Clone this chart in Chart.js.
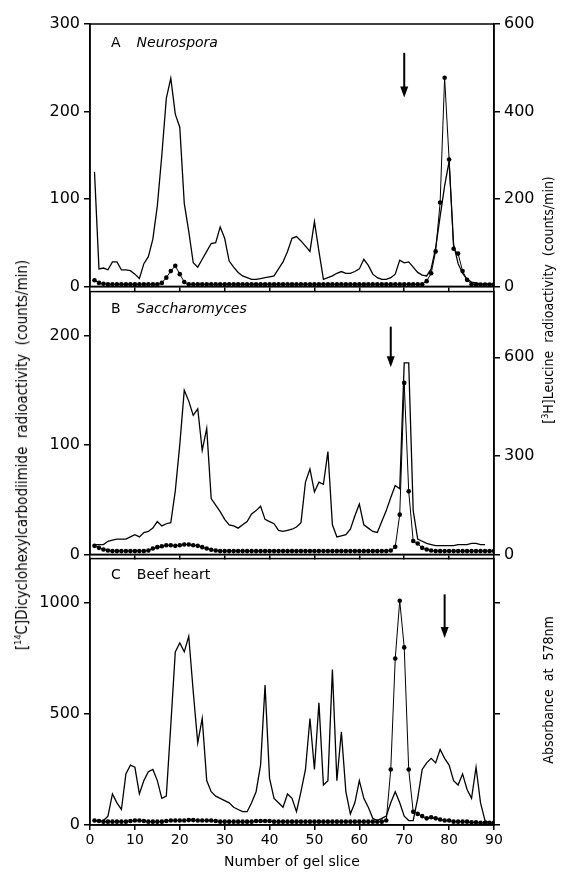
<!DOCTYPE html>
<html>
<head>
<meta charset="utf-8">
<script src="https://cdn.jsdelivr.net/npm/chart.js@4.4.1/dist/chart.umd.min.js"></script>
<style>
  body { margin: 0; background: #fff; }
  #page { position: relative; width: 568px; height: 875px; overflow: hidden; font-family: "DejaVu Sans", sans-serif; color: #000; }
  .wrap { position: absolute; left: 0; width: 568px; }
  .tag { position: absolute; font-size: 14px; white-space: nowrap; }
  .tag i { margin-left: 16px; }
  .vtitle { position: absolute; font-family: "DejaVu Sans Condensed", "DejaVu Sans", sans-serif; font-size: 14px; white-space: nowrap; transform: translate(-50%, -50%) rotate(-90deg); }
  .vtitle sup { font-size: 9px; }
</style>
</head>
<body>
<div id="page">
  <div class="wrap" style="top:0;height:300px"><canvas id="chartA" width="568" height="300"></canvas></div>
  <div class="wrap" style="top:278px;height:290px"><canvas id="chartB" width="568" height="290"></canvas></div>
  <div class="wrap" style="top:545px;height:330px"><canvas id="chartC" width="568" height="330"></canvas></div>

  <div class="tag" style="left:111px;top:34px">A<i>Neurospora</i></div>
  <div class="tag" style="left:111px;top:300px">B<i>Saccharomyces</i></div>
  <div class="tag" style="left:111px;top:566px">C<span style="margin-left:16px">Beef heart</span></div>

  <div class="vtitle" style="left:22px;top:455px;font-size:15px">[<sup>14</sup>C]Dicyclohexylcarbodiimide&nbsp; radioactivity&nbsp; (counts/min)</div>
  <div class="vtitle" style="left:548px;top:300px">[<sup>3</sup>H]Leucine&nbsp; radioactivity&nbsp; (counts/min)</div>
  <div class="vtitle" style="left:548px;top:690px">Absorbance&nbsp; at&nbsp; 578nm</div>
</div>

<script>
// gel slice numbers
const slices = [1,2,3,4,5,6,7,8,9,10,11,12,13,14,15,16,17,18,19,20,21,22,23,24,25,26,27,28,29,30,
  31,32,33,34,35,36,37,38,39,40,41,42,43,44,45,46,47,48,49,50,51,52,53,54,55,56,57,58,59,60,
  61,62,63,64,65,66,67,68,69,70,71,72,73,74,75,76,77,78,79,80,81,82,83,84,85,86,87,88,89,90];

// A Neurospora : [14C]DCCD (left) and [3H]leucine (right)
const neuroDccd = [131,20,21,19,28,28,19,19,18,14,9,26,34,54,92,150,215,238,197,182,95,63,27,22,31,40,49,50,68,55,
  29,22,16,12,10,8,8,9,10,11,12,20,28,40,55,57,52,46,40,74,40,8,10,12,15,17,15,15,17,20,
  31,24,14,10,8,8,10,14,30,27,28,22,16,13,12,20,44,80,115,143,48,26,15,8,5,4,3,3,3,3];
const neuroLeu = [14,8,6,5,5,5,5,5,5,5,5,5,5,5,5,8,20,35,47,28,10,5,5,5,5,5,5,5,5,5,
  5,5,5,5,5,5,5,5,5,5,5,5,5,5,5,5,5,5,5,5,5,5,5,5,5,5,5,5,5,5,
  5,5,5,5,5,5,5,5,5,5,5,5,5,5,12,30,80,192,477,290,86,75,35,15,5,4,4,4,4,4];

// B Saccharomyces
const saccDccd = [9,9,9,12,13,14,14,14,16,18,16,20,21,24,30,26,28,29,58,100,150,140,127,133,95,115,51,45,39,32,
  27,26,24,27,30,37,40,44,32,30,28,22,21,22,23,25,29,66,78,57,66,64,94,27,16,17,18,23,35,46,
  27,24,21,20,30,40,52,63,60,175,175,40,14,12,10,9,8,8,8,8,8,9,9,9,10,10,9,9,null,null];
const saccLeu = [26,20,15,12,10,10,10,10,10,10,10,10,12,18,22,25,28,28,26,28,30,30,28,26,22,18,14,12,10,10,
  10,10,10,10,10,10,10,10,10,10,10,10,10,10,10,10,10,10,10,10,10,10,10,10,10,10,10,10,10,10,
  10,10,10,10,10,10,12,23,121,522,192,41,33,20,15,12,10,10,10,10,10,10,10,10,10,10,10,10,10,10];

// C Beef heart : [14C]DCCD (left) and absorbance (right)
const beefDccd = [20,15,20,40,140,100,70,230,270,260,140,200,240,250,200,120,130,450,780,820,780,850,600,370,480,200,150,130,120,110,
  100,80,70,60,60,100,150,270,630,210,120,100,80,140,120,60,150,250,480,250,550,180,200,700,200,420,150,50,100,200,
  120,80,30,20,30,40,100,150,100,40,20,20,120,250,280,300,280,340,300,270,200,180,230,160,120,260,100,20,10,10];
const beefAbs = [20,18,15,15,15,15,15,15,18,20,20,18,15,15,15,15,18,20,20,20,20,22,22,20,20,20,20,18,15,15,
  15,15,15,15,15,15,18,18,18,18,15,15,15,15,15,15,15,15,15,15,15,15,15,15,15,15,15,15,15,15,
  15,15,15,15,15,20,250,750,1010,800,250,60,50,40,30,35,30,25,20,20,15,15,15,15,12,12,10,10,10,10];

// axes
const xTicks = [0,10,20,30,40,50,60,70,80,90];
const aLeftTicks = [0,100,200,300];
const aRightTicks = [0,200,400,600];
const bLeftTicks = [0,100,200];
const bRightTicks = [0,300,600];
const cLeftTicks = [0,500,1000];

// down arrows: slice and the left-scale values of tail and tip
const arrowA = [70, 267, 216];
const arrowB = [67, 208, 171];
const arrowC = [79, 1039, 842];

const ink = '#000';
const tickFont = { family: 'DejaVu Sans', size: 16 };

const framePlugin = {
  id: 'frame',
  afterDraw(chart, args, opts) {
    const { ctx, chartArea: a, scales } = chart;
    ctx.save();
    ctx.strokeStyle = ink;
    ctx.lineWidth = 1.5;
    ctx.strokeRect(a.left, a.top, a.right - a.left, a.bottom - a.top);
    if (opts.arrow) {
      const [sx, y0, y1] = opts.arrow;
      const px = scales.x.getPixelForValue(sx);
      const pTop = scales.y.getPixelForValue(y0);
      const pTip = scales.y.getPixelForValue(y1);
      ctx.lineWidth = 2;
      ctx.beginPath();
      ctx.moveTo(px, pTop);
      ctx.lineTo(px, pTip - 8);
      ctx.stroke();
      ctx.fillStyle = ink;
      ctx.beginPath();
      ctx.moveTo(px - 4, pTip - 11);
      ctx.lineTo(px + 4, pTip - 11);
      ctx.lineTo(px, pTip);
      ctx.closePath();
      ctx.fill();
    }
    ctx.restore();
  }
};

function fixed(list) {
  return s => { s.ticks = list.map(v => ({ value: v })); };
}

function yAxis(pos, max, list, showLabels, width) {
  return {
    type: 'linear', position: pos, min: 0, max: max,
    afterBuildTicks: fixed(list),
    afterFit: s => { s.width = width; },
    grid: { drawOnChartArea: false, drawTicks: true, tickLength: 6, color: ink, lineWidth: 1.5 },
    border: { display: true, color: ink, width: 1.5 },
    ticks: { display: showLabels, color: ink, font: tickFont, padding: 4, callback: v => String(v) }
  };
}

function xAxis(showLabels, height) {
  const ax = {
    type: 'linear', min: 0, max: 90,
    afterBuildTicks: fixed(xTicks),
    afterFit: s => { s.height = height; },
    grid: { drawOnChartArea: false, drawTicks: true, tickLength: 5, color: ink, lineWidth: 1.5 },
    border: { display: true, color: ink, width: 1.5 },
    ticks: { display: showLabels, color: ink, font: { family: 'DejaVu Sans', size: 14 }, padding: 2, maxRotation: 0, callback: v => String(v) }
  };
  if (showLabels) {
    ax.title = { display: true, text: 'Number of gel slice', color: ink, font: { family: 'DejaVu Sans', size: 14 }, padding: { top: 0, bottom: 4 } };
  }
  return ax;
}

function solid(vals) {
  return { data: slices.map((s, i) => ({ x: s, y: vals[i] })), yAxisID: 'y', borderColor: ink, borderWidth: 1.3, pointRadius: 0, tension: 0, spanGaps: false };
}
function dotted(vals) {
  return { data: slices.map((s, i) => ({ x: s, y: vals[i] })), yAxisID: 'yR', borderColor: ink, borderWidth: 1, pointRadius: 2.3, pointBackgroundColor: ink, pointBorderWidth: 0, tension: 0 };
}

function panel(id, sets, scales, padTop, arrow) {
  new Chart(document.getElementById(id), {
    type: 'line',
    data: { datasets: sets },
    options: {
      responsive: false, animation: false, events: [],
      layout: { padding: { top: padTop, left: 0, right: 0, bottom: 0 } },
      plugins: { legend: { display: false }, tooltip: { enabled: false }, frame: { arrow: arrow } },
      scales: scales
    },
    plugins: [framePlugin]
  });
}

panel('chartA', [solid(neuroDccd), dotted(neuroLeu)], {
  x: xAxis(false, 11),
  y: yAxis('left', 300, aLeftTicks, true, 90),
  yR: yAxis('right', 600, aRightTicks, true, 74)
}, 24, arrowA);

panel('chartB', [solid(saccDccd), dotted(saccLeu)], {
  x: xAxis(false, 11),
  y: yAxis('left', 240, bLeftTicks, true, 90),
  yR: yAxis('right', 800, bRightTicks, true, 74)
}, 12, arrowB);

panel('chartC', [solid(beefDccd), dotted(beefAbs)], {
  x: xAxis(true, 50),
  y: yAxis('left', 1200, cLeftTicks, true, 90),
  yR: yAxis('right', 1200, cLeftTicks, false, 74)
}, 12, arrowC);
</script>
</body>
</html>
